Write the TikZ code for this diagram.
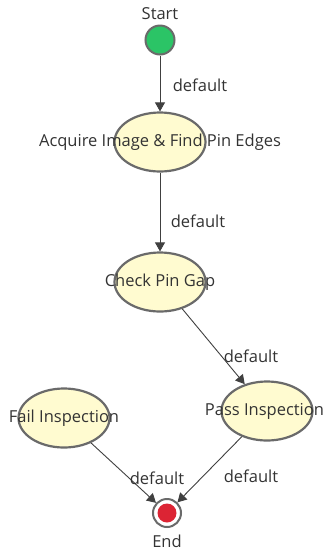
\documentclass[tikz,border=0pt]{standalone}
\usepackage{fontspec}
\setmainfont{Open Sans}
\usetikzlibrary{shapes.geometric,arrows.meta}
\definecolor{txt}{HTML}{333333}
\definecolor{bord}{HTML}{6A6A6A}
\definecolor{fillst}{HTML}{FFFBD0}
\definecolor{green}{HTML}{2BC466}
\definecolor{red}{HTML}{DC2434}
\definecolor{line}{HTML}{404040}
\tikzset{
  statebox/.style={ellipse, draw=bord, line width=2.2pt, fill=fillst, minimum width=91pt, minimum height=59pt, inner sep=0pt},
  lbl/.style={text=txt, font=\fontsize{16.5}{19}\selectfont, inner sep=0pt},
  conn/.style={draw=line, line width=0.9pt, -{Triangle[length=9pt,width=10pt]}},
}
\begin{document}
\begin{tikzpicture}[x=1pt,y=-1pt]
\useasboundingbox[fill=white] (0,0) rectangle (325,550);
% start
\node[circle, draw=bord, line width=2pt, fill=green, minimum size=29pt, inner sep=0pt] (start) at (160,40) {};
\node[lbl] (startl) at (160,14) {Start};
% states
\node[statebox] (acq) at (160,142) {};
\node[lbl] (acqt) at (160,142) {Acquire Image \& Find Pin Edges};
\node[statebox] (chk) at (160,282) {};
\node[lbl] (chkt) at (160,282) {Check Pin Gap};
\node[statebox] (pass) at (267,411) {};
\node[lbl] (passt) at (264.5,411) {Pass Inspection};
\node[statebox] (fail) at (64,418) {};
\node[lbl] (failt) at (64,418) {Fail Inspection};
% end
\node[circle, draw=bord, line width=2pt, fill=white, minimum size=28pt, inner sep=0pt] (end) at (167,513) {};
\node[circle, fill=red, minimum size=19pt, inner sep=0pt] (endin) at (167,513) {};
\node[lbl] (endl) at (167,541) {End};
% connectors
\draw[conn] (start) -- (acq);
\draw[conn] (acq) -- (chk);
\draw[conn] (chk) -- (pass);
\draw[conn] (fail) -- (end);
\draw[conn] (pass) -- (end);
% labels
\node[lbl] (l1) at (200,85) {default};
\node[lbl] (l2) at (198,221) {default};
\node[lbl] (l3) at (251,356) {default};
\node[lbl] (l4) at (157,478) {default};
\node[lbl] (l5) at (251,476) {default};
\end{tikzpicture}
\end{document}
